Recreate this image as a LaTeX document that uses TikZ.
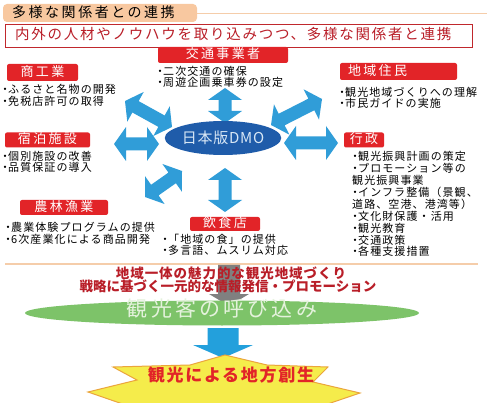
\documentclass[tikz,border=0pt]{standalone}
\usepackage{fontspec}
\setmainfont{Noto Sans CJK JP}
\usetikzlibrary{calc,shapes.geometric}
\definecolor{arrowblue}{RGB}{48,157,216}
\definecolor{dmoblue}{RGB}{31,92,170}
\definecolor{dmotext}{RGB}{215,230,245}
\definecolor{lblred}{RGB}{226,36,40}
\definecolor{darkred}{RGB}{185,30,40}
\definecolor{boxred}{RGB}{192,40,45}
\definecolor{tabpeach}{RGB}{248,200,160}
\definecolor{linepeach}{RGB}{245,205,170}
\definecolor{lensgreen}{RGB}{125,195,105}
\definecolor{lenstext}{RGB}{228,242,220}
\definecolor{staryellow}{RGB}{245,236,75}
\definecolor{starorange}{RGB}{235,165,60}
\definecolor{downblue}{RGB}{35,160,220}
\definecolor{arrowgray}{RGB}{128,128,128}
\newcommand\bl{\makebox[6pt]{・}}
\newcommand\fs[2]{\fontsize{#1}{#1}\selectfont\addfontfeature{LetterSpace=#2}}
\newcommand\dblarr[2]{%
\fill[arrowblue] (#1)
 -- ($(#1)!12pt!(#2)!17pt!90:(#2)$)
 -- ($(#1)!12pt!(#2)!6.5pt!90:(#2)$)
 -- ($(#2)!12pt!(#1)!6.5pt!-90:(#1)$)
 -- ($(#2)!12pt!(#1)!17pt!-90:(#1)$)
 -- (#2)
 -- ($(#2)!12pt!(#1)!17pt!90:(#1)$)
 -- ($(#2)!12pt!(#1)!6.5pt!90:(#1)$)
 -- ($(#1)!12pt!(#2)!6.5pt!-90:(#2)$)
 -- ($(#1)!12pt!(#2)!17pt!-90:(#2)$)
 -- cycle;}
% color, from, to, head length, shaft half width, head half width
\newcommand\sglarr[6]{%
\fill[#1] ($(#2)!#5!90:(#3)$)
 -- ($(#3)!#4!(#2)!#5!-90:(#2)$)
 -- ($(#3)!#4!(#2)!#6!-90:(#2)$)
 -- (#3)
 -- ($(#3)!#4!(#2)!#6!90:(#2)$)
 -- ($(#3)!#4!(#2)!#5!90:(#2)$)
 -- ($(#2)!#5!-90:(#3)$)
 -- cycle;}
\newcommand\lines[5]{%
 \foreach \t [count=\i from 0] in {#5}{\node[body] (#1\i) at (#2,{#3+#4*\i}) {\t};}}
\begin{document}
\begin{tikzpicture}[x=1pt,y=-1pt,
 body/.style={anchor=west, inner sep=0, font=\fs{11}{10}, text height=.88em, text depth=.12em},
 lbl/.style={fill=lblred, text=white, rounded corners=2pt, inner sep=0, font=\fs{13}{18}, text height=.88em, text depth=.12em},
]
\useasboundingbox (0,0) rectangle (487,403);
\fill[white] (0,0) rectangle (487,403);
% title tab
\draw[linepeach, line width=1pt] (190,14) -- (487,14);
\fill[tabpeach, rounded corners=4pt] (3,4) rectangle (197,22);
\node[anchor=west, inner sep=0, font=\fs{14}{18}, text height=.88em, text depth=.12em] (title) at (12,13.5) {多様な関係者との連携};
% banner
\node[draw=boxred, line width=1.3pt, fill=white, minimum width=467, minimum height=23, anchor=north west, inner sep=0] (banner) at (5,24) {};
\node[anchor=west, inner sep=0, text=darkred, font=\fs{14.5}{12}, text height=.88em, text depth=.12em] (bannertxt) at (15,35.5) {内外の人材やノウハウを取り込みつつ、多様な関係者と連携};
% arrows
\coordinate (a1o) at (225,88);  \coordinate (a1i) at (225,123);
\coordinate (a2o) at (125,101); \coordinate (a2i) at (172,127);
\coordinate (a3o) at (114,144); \coordinate (a3i) at (159,144);
\coordinate (a4o) at (145,197); \coordinate (a4i) at (182,171);
\coordinate (a5o) at (225,212); \coordinate (a5i) at (225,168);
\coordinate (a6o) at (322,99); \coordinate (a6i) at (271,125);
\coordinate (a7o) at (338,143); \coordinate (a7i) at (284,143);
\dblarr{a1o}{a1i}
\dblarr{a2o}{a2i}
\dblarr{a3o}{a3i}
\dblarr{a4o}{a4i}
\dblarr{a5o}{a5i}
\dblarr{a6o}{a6i}
\dblarr{a7o}{a7i}
% center
\node[ellipse, fill=dmoblue, minimum width=116, minimum height=34, inner sep=0, text=dmotext, font=\fs{15}{5}] (dmo) at (223,138) {日本版DMO};
% labels
\node[lbl, minimum width=130, minimum height=16] (koutsu) at (223,55) {交通事業者};
\node[lbl, minimum width=71, minimum height=17] (shoko) at (42.5,72.5) {商工業};
\node[lbl, minimum width=117, minimum height=17, text width=101, align=left] (jumin) at (398.5,71.5) {地域住民};
\node[lbl, minimum width=85, minimum height=15] (shukuhaku) at (47.5,140) {宿泊施設};
\node[lbl, minimum width=40, minimum height=15] (gyosei) at (364,140) {行政};
\node[lbl, minimum width=88, minimum height=15] (norin) at (64,207.5) {農林漁業};
\node[lbl, minimum width=70, minimum height=14] (inshoku) at (225,224) {飲食店};
% texts
\lines{tk}{157}{72}{11}{{\bl 二次交通の確保},{\bl 周遊企画乗車券の設定}}
\lines{sk}{2}{90}{12}{{\bl ふるさと名物の開発},{\bl 免税店許可の取得}}
\lines{jm}{339}{93}{11}{{\bl 観光地域づくりへの理解},{\bl 市民ガイドの実施}}
\lines{sh}{2}{157}{11}{{\bl 個別施設の改善},{\bl 品質保証の導入}}
\lines{gy}{352}{157}{11.9}{{\bl 観光振興計画の策定},{\bl プロモーション等の},{観光振興事業},{\bl インフラ整備（景観、},{道路、空港、港湾等）},{\bl 文化財保護・活用},{\bl 観光教育},{\bl 交通政策},{\bl 各種支援措置}}
\lines{nr}{5}{228}{12}{{\bl 農業体験プログラムの提供},{\bl 6次産業化による商品開発}}
\lines{in}{162}{240}{11}{{\bl 「地域の食」の提供},{\bl 多言語、ムスリム対応}}
% separator
\draw[linepeach, line width=1.2pt] (5,264) -- (478,264);
% gray arrow
\coordinate (g1) at (229,265); \coordinate (g2) at (229,306);
\sglarr{arrowgray}{g1}{g2}{12pt}{11pt}{20pt}
\node[anchor=center, inner sep=0, text=darkred, font=\bfseries\fs{13.5}{7}, text height=.88em, text depth=.12em] (l1) at (231,275) {地域一体の魅力的な観光地域づくり};
\node[anchor=center, inner sep=0, text=darkred, font=\bfseries\fs{13.5}{0}, text height=.88em, text depth=.12em] (l2) at (228,288) {戦略に基づく一元的な情報発信・プロモーション};
% green lens
\node[ellipse, fill=lensgreen, minimum width=394, minimum height=25, inner sep=0, text=lenstext, font=\fs{21}{15}, text height=.88em, text depth=.12em] (lens) at (222,313) {観光客の呼び込み};
% blue arrow
\coordinate (b1) at (223,328); \coordinate (b2) at (223,358);
\sglarr{downblue}{b1}{b2}{13pt}{15.5pt}{30pt}
% star
\begin{scope}
\clip (0,0) rectangle (487,403);
\draw[fill=staryellow, draw=starorange, line width=1pt, line join=miter]
 (225,355) -- (267,365) -- (328,367) -- (313,382) -- (360,393) -- (310,410) -- (330,440)
 -- (120,440) -- (140,410) -- (88,392) -- (137,380) -- (113,367) -- (190,365) -- cycle;
\end{scope}
\node[anchor=center, inner sep=0, text=lblred, font=\bfseries\fs{17}{10}, text height=.88em, text depth=.12em] (goal) at (231,378) {観光による地方創生};
\end{tikzpicture}
\end{document}
